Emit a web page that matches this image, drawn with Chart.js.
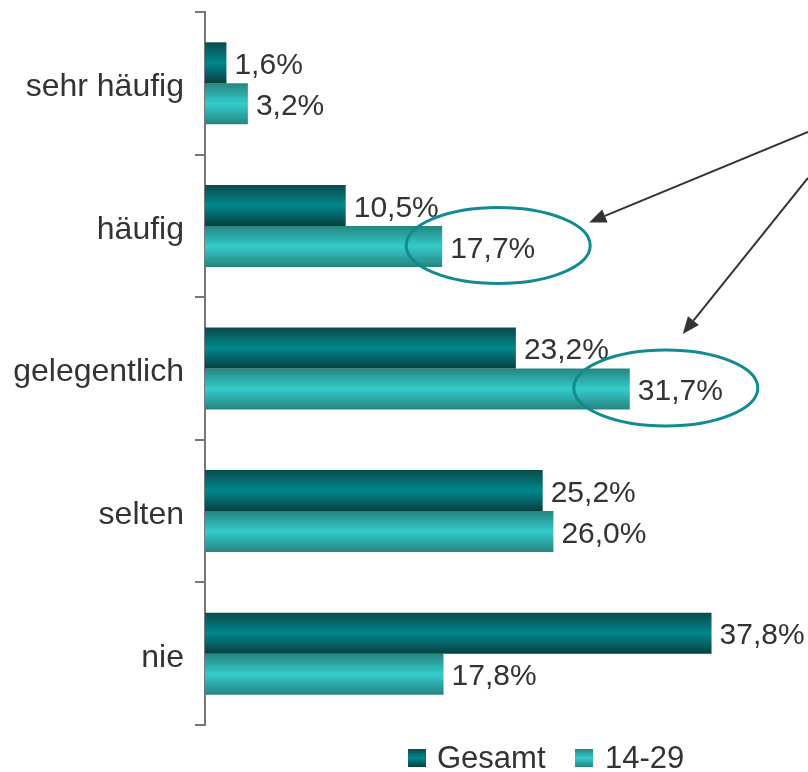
<!DOCTYPE html>
<html>
<head>
<meta charset="utf-8">
<script src="https://cdn.jsdelivr.net/npm/chart.js@4"></script>
<style>
  html, body { margin: 0; padding: 0; background: #fff; }
  canvas { display: block; }
</style>
</head>
<body>
<canvas id="usageChart" width="808" height="772"></canvas>
<script>
const categories = ['sehr häufig', 'häufig', 'gelegentlich', 'selten', 'nie'];
const seriesNames = ['Gesamt', '14-29'];
const gesamtValues = [1.6, 10.5, 23.2, 25.2, 37.8];
const youngValues = [3.2, 17.7, 31.7, 26.0, 17.8];
const highlighted = [1, 2]; // 14-29 bars that get an ellipse + arrow

const FONT = "'Liberation Sans', Arial, sans-serif";
const TEXT = '#333333';

const gradients = [
    ['#0b4a4c', '#00878b', '#073f40'],
    ['#26847f', '#33cccc', '#26847f']
];

function barGradient(ctx, top, bottom, stops) {
    const g = ctx.createLinearGradient(0, top, 0, bottom);
    g.addColorStop(0, stops[0]);
    g.addColorStop(0.5, stops[1]);
    g.addColorStop(1, stops[2]);
    return g;
}

function fmt(v) {
    return v.toFixed(1).replace('.', ',') + '%';
}

// each bar gets its own vertical gradient (options are not shared since the colour is scriptable)
const gradientBars = {
    id: 'gradientBars',
    beforeDatasetsDraw(chart) {
        const ctx = chart.ctx;
        chart.data.datasets.forEach((ds, i) => {
            chart.getDatasetMeta(i).data.forEach(bar => {
                const h = bar.height;
                bar.options.backgroundColor = barGradient(ctx, bar.y - h / 2, bar.y + h / 2, gradients[i]);
            });
        });
    }
};

const valueLabels = {
    id: 'valueLabels',
    afterDatasetsDraw(chart) {
        const ctx = chart.ctx;
        ctx.save();
        ctx.font = '30px ' + FONT;
        ctx.fillStyle = TEXT;
        ctx.textAlign = 'left';
        ctx.textBaseline = 'middle';
        chart.data.datasets.forEach((ds, i) => {
            chart.getDatasetMeta(i).data.forEach((bar, j) => {
                ctx.fillText(fmt(ds.data[j]), bar.x + 8, bar.y + 3);
            });
        });
        ctx.restore();
    }
};

// ellipses around two 14-29 labels, with arrows coming in from the right edge
const callouts = {
    id: 'callouts',
    afterDraw(chart) {
        const ctx = chart.ctx;
        const meta = chart.getDatasetMeta(1);
        const offsets = [56, 36];
        const tips = [[91, -23], [17, -54]];
        const starts = [132, 178];
        ctx.save();
        highlighted.forEach((idx, k) => {
            const bar = meta.data[idx];
            const cx = bar.x + offsets[k];
            const cy = bar.y - 1;
            ctx.beginPath();
            ctx.ellipse(cx, cy, 92, 38, 0, 0, Math.PI * 2);
            ctx.strokeStyle = '#138a8f';
            ctx.lineWidth = 3;
            ctx.stroke();

            const tx = cx + tips[k][0];
            const ty = cy + tips[k][1];
            const sx = chart.width;
            const sy = starts[k];
            const ang = Math.atan2(ty - sy, tx - sx);
            const len = 17, half = 7;
            const bx = tx - len * Math.cos(ang);
            const by = ty - len * Math.sin(ang);
            ctx.beginPath();
            ctx.moveTo(sx, sy);
            ctx.lineTo(bx, by);
            ctx.strokeStyle = '#333333';
            ctx.lineWidth = 2;
            ctx.stroke();
            ctx.beginPath();
            ctx.moveTo(tx, ty);
            ctx.lineTo(bx + half * Math.sin(ang), by - half * Math.cos(ang));
            ctx.lineTo(bx - half * Math.sin(ang), by + half * Math.cos(ang));
            ctx.closePath();
            ctx.fillStyle = '#333333';
            ctx.fill();
        });
        ctx.restore();
    }
};

const bottomLegend = {
    id: 'bottomLegend',
    afterDraw(chart) {
        const ctx = chart.ctx;
        const y = 758;
        const items = [[408, 437], [575, 605]];
        ctx.save();
        ctx.font = '31px ' + FONT;
        ctx.textBaseline = 'middle';
        seriesNames.forEach((name, i) => {
            const [bx, tx] = items[i];
            ctx.fillStyle = barGradient(ctx, y - 9, y + 9, gradients[i]);
            ctx.fillRect(bx, y - 9, 18, 18);
            ctx.fillStyle = TEXT;
            ctx.fillText(name, tx, y + 1);
        });
        ctx.restore();
    }
};

new Chart(document.getElementById('usageChart'), {
    type: 'bar',
    data: {
        labels: categories,
        datasets: [
            { label: seriesNames[0], data: gesamtValues, backgroundColor: () => '#00878b' },
            { label: seriesNames[1], data: youngValues, backgroundColor: () => '#33cccc' }
        ]
    },
    options: {
        indexAxis: 'y',
        responsive: false,
        animation: false,
        categoryPercentage: 0.575,
        barPercentage: 1,
        layout: { padding: { top: 12, bottom: 47, left: 0, right: 0 } },
        plugins: {
            legend: { display: false },
            tooltip: { enabled: false }
        },
        scales: {
            x: { display: false, min: 0, max: 45 },
            y: {
                grid: {
                    offset: true,
                    drawOnChartArea: false,
                    tickLength: 10,
                    color: '#777777',
                    lineWidth: 2
                },
                border: { display: true, color: '#777777', width: 2 },
                ticks: {
                    color: TEXT,
                    padding: 11,
                    labelOffset: 4,
                    font: { family: FONT, size: 32 }
                },
                afterFit(scale) {
                    scale.width = 205;
                    scale.paddingTop = 0;
                    scale.paddingBottom = 0;
                }
            }
        }
    },
    plugins: [gradientBars, valueLabels, callouts, bottomLegend]
});
</script>
</body>
</html>
